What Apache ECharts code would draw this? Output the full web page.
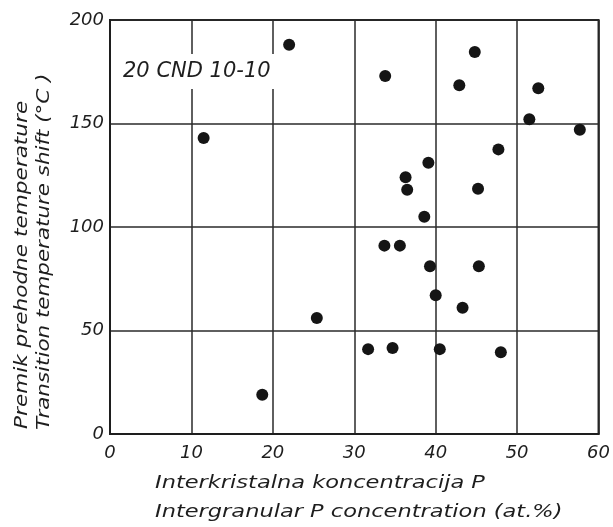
<!DOCTYPE html>
<html><head><meta charset="utf-8">
<script src="https://cdn.jsdelivr.net/npm/echarts@6/dist/echarts.min.js"></script>
<style>html,body{margin:0;padding:0;background:#fff}#c{width:613px;height:527px}</style>
</head><body><div id="c"></div>
<script>
// Data
const concentration = [11.5, 18.7, 22.0, 25.4, 31.7, 33.8, 33.7, 34.7, 35.6, 36.3, 36.5, 38.6, 39.1, 39.3, 40.0, 40.5, 43.3, 42.9, 44.8, 45.2, 45.3, 47.7, 48.0, 51.5, 52.6, 57.7];
const tempShift     = [143, 19, 188, 56, 41, 173, 91, 41.5, 91, 124, 118, 105, 131, 81, 67, 41, 61, 168.5, 184.5, 118.5, 81, 137.5, 39.5, 152, 167, 147];
const xTicks = [0, 10, 20, 30, 40, 50, 60];
const yTicks = [0, 50, 100, 150, 200];
const annotation = '20 CND 10-10';
const xTitle = ['Interkristalna koncentracija P', 'Intergranular P concentration (at.%)'];
const yTitle = ['Premik prehodne temperature', 'Transition temperature shift (°C )'];

const FONT = '"DejaVu Sans", sans-serif';
const INK = '#1e1e1e';
const chart = echarts.init(document.getElementById('c'), null, {renderer: 'canvas'});
const pts = concentration.map((x, i) => [x, tempShift[i]]);
const titleFont = 'italic 18px ' + FONT;
const SX = 1.25;
chart.setOption({
  animation: false,
  backgroundColor: '#fff',
  grid: {left: 110, right: 12, top: 20, bottom: 93, show: true, borderColor: INK, borderWidth: 2, backgroundColor: 'transparent'},
  title: {
    text: annotation, left: 117, top: 54,
    backgroundColor: '#fff', padding: [7, 6, 7, 6],
    textStyle: {fontFamily: FONT, fontStyle: 'italic', fontWeight: 'normal', fontSize: 21, color: INK}
  },
  xAxis: {
    type: 'value', min: xTicks[0], max: xTicks[xTicks.length - 1], interval: 10,
    axisLine: {show: true, lineStyle: {color: INK, width: 2}},
    axisTick: {show: false},
    splitLine: {show: true, lineStyle: {color: '#2a2a2a', width: 1.5}},
    axisLabel: {fontFamily: FONT, fontStyle: 'italic', fontSize: 18, color: INK, margin: 10}
  },
  yAxis: {
    type: 'value', min: yTicks[0], max: yTicks[yTicks.length - 1], interval: 50,
    axisLine: {show: true, lineStyle: {color: INK, width: 2}},
    axisTick: {show: false},
    splitLine: {show: true, lineStyle: {color: '#2a2a2a', width: 1.5}},
    axisLabel: {fontFamily: FONT, fontStyle: 'italic', fontSize: 18, color: INK, margin: 6}
  },
  graphic: [
    {type: 'text', x: 155, y: 483, scaleX: SX, style: {text: xTitle[0], font: titleFont, fill: INK, align: 'left', verticalAlign: 'middle'}},
    {type: 'text', x: 155, y: 512, scaleX: SX, style: {text: xTitle[1], font: titleFont, fill: INK, align: 'left', verticalAlign: 'middle'}},
    {type: 'text', x: 22, y: 429, rotation: Math.PI / 2, scaleX: 1.2, style: {text: yTitle[0], font: titleFont, fill: INK, align: 'left', verticalAlign: 'middle'}},
    {type: 'text', x: 44, y: 430, rotation: Math.PI / 2, scaleX: 1.19, style: {text: yTitle[1], font: titleFont, fill: INK, align: 'left', verticalAlign: 'middle'}}
  ],
  series: [{
    type: 'scatter', data: pts, symbol: 'circle', symbolSize: 12,
    itemStyle: {color: '#151515', opacity: 1}, z: 5
  }]
});
</script></body></html>
